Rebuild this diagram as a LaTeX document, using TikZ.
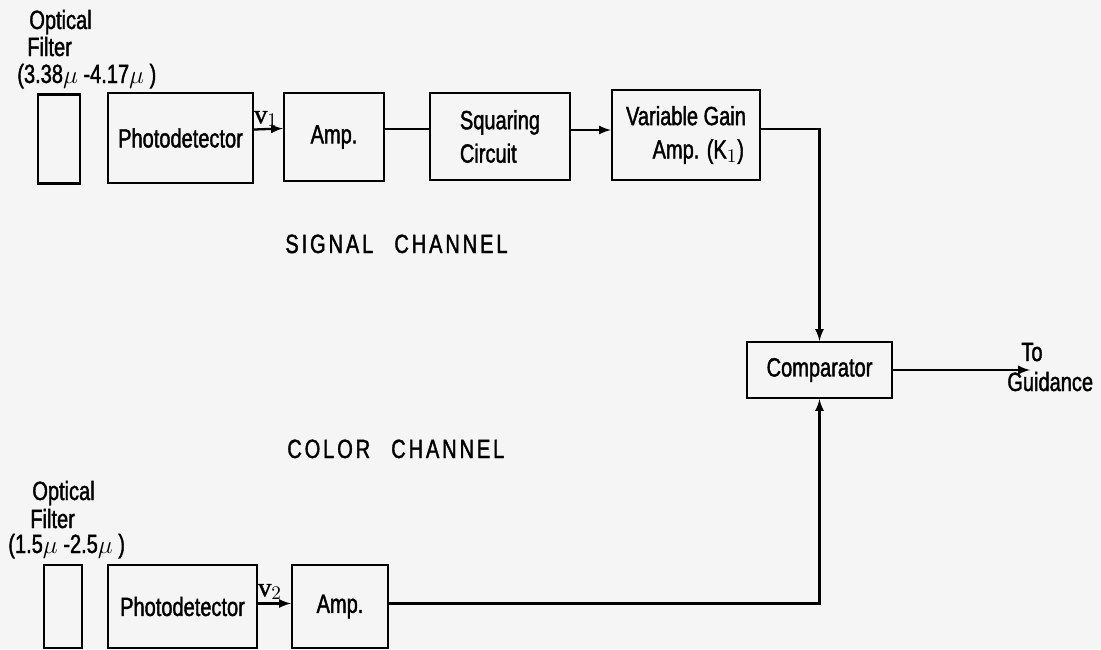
\documentclass[tikz,border=0pt]{standalone}
\usepackage{amsmath,amssymb}
\usepackage{fontspec}
\setmainfont{Liberation Sans}[FakeStretch=0.76,FakeBold=1.5]
\newfontfamily\vfont{Liberation Serif}[FakeBold=1.3]
\usepackage{tikz}
\usetikzlibrary{arrows,positioning,calc}
\definecolor{paper}{HTML}{F5F5F5}
\newcommand{\boxfont}{\fontsize{15}{19}\selectfont}
\newcommand{\chanfont}{\fontsize{15}{16}\selectfont\addfontfeatures{LetterSpace=11}}
\tikzstyle{block} = [draw,line width=1.3pt,inner sep=0pt,align=center,font=\boxfont]
\tikzstyle{filt} = [draw,line width=1.3pt,inner sep=0pt]
\tikzstyle{lbl} = [inner sep=0pt,anchor=base west,font=\boxfont]
\tikzstyle{wire} = [line width=1.3pt]
\tikzstyle{arr} = [line width=1.3pt,-latex]

\begin{document}
\begin{tikzpicture}[x=0.02cm,y=-0.02cm]
        \path[use as bounding box,fill=paper] (0,0) rectangle (1101,649);

        % signal channel
        \node[lbl] (opt1) at (29,29) {Optical};
        \node[lbl] (fil1) at (27,56) {Filter};
        \node[lbl] (rng1) at (17,83) {(3.38$\mu$ -4.17$\mu$ )};
        \node[filt,minimum width=0.84cm,minimum height=1.78cm] (f1) at (59,139) {};
        \node[block,minimum width=2.9cm,minimum height=1.8cm] (pd1) at (180.5,138) {Photodetector};
        \node[block,minimum width=2.0cm,minimum height=1.76cm] (amp1) at (334,137) {Amp.};
        \node[block,minimum width=2.8cm,minimum height=1.74cm,align=left] (sq) at (500,136.5) {Squaring\\Circuit};
        \node[block,minimum width=2.96cm,minimum height=1.8cm] (vga) at (686,135) {Variable Gain\\\hspace*{14pt}Amp. (K$_1$)};

        \draw[arr] ([yshift=0.17cm]pd1.east) -- ([yshift=0.17cm]amp1.west);
        \node[inner sep=0pt,font=\fontsize{15}{16}\selectfont] (v1) at (266,119) {\vfont v$_1$};
        \draw[wire] ([yshift=0.16cm]amp1.east) -- ([yshift=0.16cm]amp1.east -| sq.west);
        \draw[arr] ([yshift=0.13cm]sq.east) -- ([yshift=0.13cm]sq.east -| vga.west);

        \node[lbl,font=\chanfont] (sig) at (285,253) {SIGNAL\hspace{12pt}CHANNEL};

        % comparator
        \node[block,minimum width=2.9cm,minimum height=1.12cm] (comp) at (819.5,370) {Comparator};
        \draw[arr] ([yshift=0.12cm]vga.east) -| (comp.north);
        \coordinate (out) at (1030,370);
        \draw[arr] (comp.east) -- (out);
        \node[lbl] (to) at (1021,361) {To};
        \node[lbl] (guid) at (1007,391) {Guidance};

        % color channel
        \node[lbl,font=\chanfont] (col) at (287,458) {COLOR\hspace{12pt}CHANNEL};
        \node[lbl] (opt2) at (32,500) {Optical};
        \node[lbl] (fil2) at (30,528) {Filter};
        \node[lbl] (rng2) at (8,553) {(1.5$\mu$ -2.5$\mu$ )};
        \node[filt,minimum width=0.76cm,minimum height=1.66cm] (f2) at (63,606.5) {};
        \node[block,minimum width=2.98cm,minimum height=1.66cm] (pd2) at (182.5,606.5) {Photodetector};
        \node[block,minimum width=1.92cm,minimum height=1.66cm] (amp2) at (340,606.5) {Amp.};

        \draw[arr] ([yshift=0.06cm]pd2.east) -- ([yshift=0.06cm]amp2.west);
        \node[inner sep=0pt,font=\fontsize{15}{16}\selectfont] (v2) at (270,592) {\vfont v$_2$};
        \draw[arr] ([yshift=0.06cm]amp2.east) -| (comp.south);
\end{tikzpicture}
\end{document}
